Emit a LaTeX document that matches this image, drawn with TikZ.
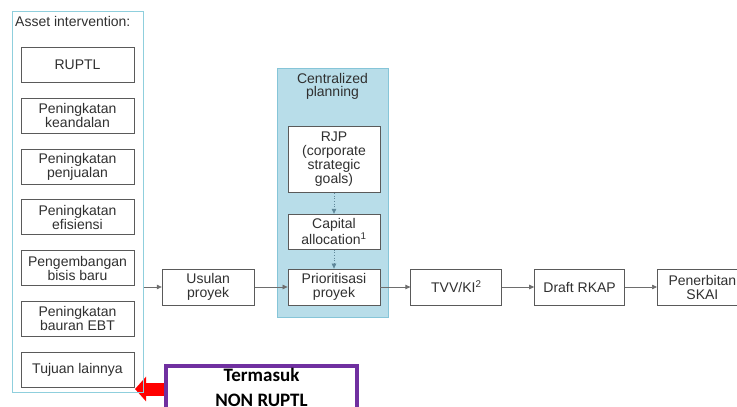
\documentclass[tikz,border=0pt]{standalone}
\usepackage{fontspec}
\setmainfont{Liberation Sans}
\newfontfamily\notefont{Carlito}
\usepackage{xcolor}
\usetikzlibrary{arrows.meta,positioning}
\definecolor{boxgray}{HTML}{5A5A5A}
\definecolor{txtgray}{HTML}{303030}
\definecolor{arrowgray}{HTML}{6E6E6E}
\definecolor{tealline}{HTML}{8FCFDD}
\definecolor{panelfill}{HTML}{B8DDE9}
\definecolor{panelline}{HTML}{86C5D8}
\definecolor{dotblue}{HTML}{5F8799}
\definecolor{notepurple}{HTML}{7030A0}
\pgfdeclarelayer{background}
\pgfsetlayers{background,main}

\begin{document}
\begin{tikzpicture}[x=1pt, y=-1pt,
    box/.style={rectangle, draw=boxgray, line width=0.8pt, fill=white, minimum height=35pt, inner sep=1pt, align=center, text=txtgray, font=\fontsize{14}{14}\selectfont},
    goal/.style={box, minimum width=113pt},
    step box/.style={box, minimum height=36pt},
    flow/.style={draw=arrowgray, line width=0.7pt, -{Triangle[length=5pt, width=4.5pt]}},
    dots/.style={flow, draw=dotblue, dotted},
    title/.style={text=txtgray, inner sep=0pt, align=center, font=\fontsize{14}{13}\selectfont},
    notebox/.style={rectangle, draw=notepurple, line width=4pt, fill=white, minimum width=191pt, inner ysep=2.5pt, align=center, text depth=40pt, font=\notefont\bfseries\fontsize{19}{24.5}\selectfont}
]
    \useasboundingbox (0,0) rectangle (737,407);

    % Asset intervention column
    \node[draw=tealline, line width=0.8pt, minimum width=131pt, minimum height=381pt, inner sep=0pt, anchor=north west] (assets) at (12,11) {};
    \node[title, anchor=north west] (assettitle) at (15,16) {Asset intervention:};
    \node[goal, anchor=north] (ruptl) at (77.5,47) {RUPTL};
    \node[goal, below=15pt of ruptl] (andal) {Peningkatan\\keandalan};
    \node[goal, below=15pt of andal] (jual) {Peningkatan\\penjualan};
    \node[goal, below=15pt of jual] (efisien) {Peningkatan\\efisiensi};
    \node[goal, below=15pt of efisien] (bisnis) {Pengembangan\\bisis baru};
    \node[goal, below=15pt of bisnis] (ebt) {Peningkatan\\bauran EBT};
    \node[goal, below=15pt of ebt] (lain) {Tujuan lainnya};

    % Centralized planning panel
    \node[draw=panelline, fill=panelfill, line width=0.8pt, minimum width=111pt, minimum height=249pt, inner sep=0pt, anchor=north west] (panel) at (277,68) {};
    \node[title, anchor=north] (paneltitle) at (332.5,73) {Centralized\\planning};
    \node[box, minimum width=92pt, minimum height=66pt, anchor=north] (rjp) at (334,126) {RJP\\(corporate\\strategic\\goals)};
    \node[box, minimum width=92pt, below=21pt of rjp] (capital) {Capital\\allocation\textsuperscript{1}};
    \node[step box, minimum width=92pt, below=19pt of capital] (prior) {Prioritisasi\\proyek};

    % Main flow
    \node[step box, minimum width=92pt, left=33pt of prior] (usulan) {Usulan\\proyek};
    \node[step box, minimum width=91pt, right=30pt of prior] (tvv) {TVV/KI\textsuperscript{2}};
    \node[step box, minimum width=90pt, right=32pt of tvv] (rkap) {Draft RKAP};
    \node[step box, minimum width=90pt, right=32pt of rkap] (skai) {Penerbitan\\SKAI};

    \draw[flow] (assets.east |- usulan.west) -- (usulan.west);
    \draw[flow] (usulan) -- (prior);
    \draw[flow] (prior) -- (tvv);
    \draw[flow] (tvv) -- (rkap);
    \draw[flow] (rkap) -- (skai);
    \draw[dots] (rjp) -- (capital);
    \draw[dots] (capital) -- (prior);

    % Note
    \node[notebox, anchor=north west] (note) at (164,364) {Termasuk\\NON RUPTL};
    \coordinate (redtip) at (135,389);
    \begin{pgfonlayer}{background}
        \draw[red, line width=13pt, -{Triangle[length=11pt, width=24pt]}] (note.west |- redtip) -- (redtip);
    \end{pgfonlayer}
\end{tikzpicture}
\end{document}
